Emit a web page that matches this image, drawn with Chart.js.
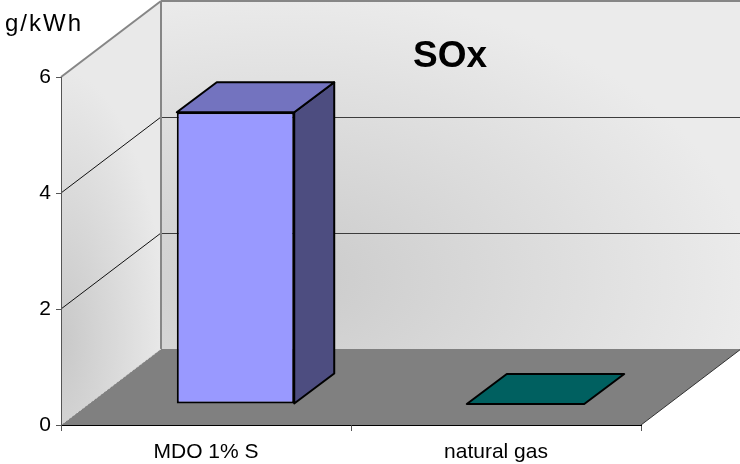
<!DOCTYPE html>
<html>
<head>
<meta charset="utf-8">
<script src="https://cdn.jsdelivr.net/npm/chart.js@4"></script>
<style>
  html, body { margin: 0; padding: 0; background: #fff; }
  canvas { display: block; }
</style>
</head>
<body>
<canvas id="sox-chart" width="740" height="464"></canvas>
<script>
// --- DATA ---
const categories = ['MDO 1% S', 'natural gas'];
const soxValues = [5.03, 0];
const chartTitle = 'SOx';
const unitLabel = 'g/kWh';

// --- COLOURS (front, top, side of each bar) ---
const frontColors = ['#9999ff', '#006666'];
const topColors = ['#7373bf', '#006060'];
const sideColors = ['#4d4d80', '#003333'];

// --- 3D GEOMETRY ---
const WALL_DX = 100, WALL_DY = -76;   // depth of the whole plot box
const BAR_DX = 40, BAR_DY = -30;      // depth of one bar
const BAR_SHIFT_X = 29.5, BAR_SHIFT_Y = -21; // bar sits in the middle of the floor
const FONT = '"Liberation Sans", Arial, sans-serif';

function polygon(ctx, pts, fill, stroke, lineWidth) {
    ctx.beginPath();
    pts.forEach((p, i) => i ? ctx.lineTo(p[0], p[1]) : ctx.moveTo(p[0], p[1]));
    ctx.closePath();
    if (fill) { ctx.fillStyle = fill; ctx.fill(); }
    if (stroke) { ctx.strokeStyle = stroke; ctx.lineWidth = lineWidth; ctx.lineJoin = 'round'; ctx.stroke(); }
}

function line(ctx, x1, y1, x2, y2, color, width) {
    ctx.beginPath();
    ctx.moveTo(x1, y1);
    ctx.lineTo(x2, y2);
    ctx.strokeStyle = color;
    ctx.lineWidth = width;
    ctx.stroke();
}

// Fill a polygon with an elliptical grey gradient around (cx, cy)
function shadeWall(ctx, pts, cx, cy, rx, ry, inner, outer) {
    ctx.save();
    polygon(ctx, pts);
    ctx.clip();
    ctx.translate(cx, cy);
    ctx.scale(rx, ry);
    const grad = ctx.createRadialGradient(0, 0, 0, 0, 0, 1);
    grad.addColorStop(0, inner);
    grad.addColorStop(1, outer);
    ctx.fillStyle = grad;
    ctx.fillRect(-10, -10, 20, 20);
    ctx.restore();
}

// Walls, floor and gridlines behind the scales and bars
const wallsPlugin = {
    id: 'walls',
    beforeDraw(chart) {
        const { ctx, chartArea: a, scales: { y } } = chart;
        ctx.save();

        shadeWall(ctx, [[a.left + WALL_DX, a.top + WALL_DY], [a.right + WALL_DX, a.top + WALL_DY],
            [a.right + WALL_DX, a.bottom + WALL_DY], [a.left + WALL_DX, a.bottom + WALL_DY]],
            280, 280, 470, 290, '#cacaca', '#ebebeb');

        shadeWall(ctx, [[a.left, a.top], [a.left + WALL_DX, a.top + WALL_DY],
            [a.left + WALL_DX, a.bottom + WALL_DY], [a.left, a.bottom]],
            60, 340, 105, 270, '#c8c8c8', '#e9e9e9');

        polygon(ctx, [[a.left, a.bottom], [a.right, a.bottom],
            [a.right + WALL_DX, a.bottom + WALL_DY], [a.left + WALL_DX, a.bottom + WALL_DY]], '#808080');

        y.ticks.forEach(t => {
            if (t.value === 0) return;
            const py = y.getPixelForValue(t.value);
            const top = t.value === 6;
            const c = top ? '#868686' : '#3c3c3c';
            line(ctx, a.left, py, a.left + WALL_DX, py + WALL_DY, top ? c : '#111', top ? 2 : 1);
            line(ctx, a.left + WALL_DX, py + WALL_DY + (top ? 0 : 0.5), a.right + WALL_DX, py + WALL_DY + (top ? 0 : 0.5), c, top ? 2 : 1);
        });
        line(ctx, a.left + WALL_DX, a.top + WALL_DY, a.left + WALL_DX, a.bottom + WALL_DY, '#868686', 2);

        // pale dotted edge where the side wall meets the floor, dark edge on the right
        ctx.setLineDash([2, 2]);
        line(ctx, a.left, a.bottom, a.left + WALL_DX, a.bottom + WALL_DY, '#d8d8d8', 1);
        ctx.setLineDash([]);
        line(ctx, a.right, a.bottom, a.right + WALL_DX, a.bottom + WALL_DY, '#333333', 1);
        ctx.restore();
    },
    beforeDatasetsDraw(chart) {
        // shift the bars into the floor; undone in afterDatasetsDraw
        chart.ctx.save();
        chart.ctx.translate(BAR_SHIFT_X, BAR_SHIFT_Y);
    },
    afterDatasetsDraw(chart) {
        const { ctx } = chart;
        chart.getDatasetMeta(0).data.forEach((bar, i) => {
            const w = bar.width / 2;
            const l = bar.x - w, r = bar.x + w, t = bar.y, b = bar.base;
            if (b - t > 1) {
                polygon(ctx, [[r, t], [r + BAR_DX, t + BAR_DY], [r + BAR_DX, b + BAR_DY], [r, b]],
                    sideColors[i], '#000', 2);
            }
            polygon(ctx, [[l, t], [r, t], [r + BAR_DX, t + BAR_DY], [l + BAR_DX, t + BAR_DY]],
                topColors[i], '#000', 2);
        });
        ctx.restore();
    }
};

// Title and unit label
const labelsPlugin = {
    id: 'labels',
    afterDraw(chart) {
        const { ctx } = chart;
        ctx.save();
        ctx.fillStyle = '#000';
        ctx.textBaseline = 'alphabetic';
        ctx.textAlign = 'center';
        ctx.font = 'bold 37px ' + FONT;
        ctx.fillText(chartTitle, 450, 67);
        ctx.textAlign = 'left';
        ctx.font = '24px ' + FONT;
        ctx.letterSpacing = '2px';
        ctx.fillText(unitLabel, 5, 31);
        ctx.restore();
    }
};

new Chart(document.getElementById('sox-chart'), {
    type: 'bar',
    data: {
        labels: categories,
        datasets: [{
            data: soxValues,
            backgroundColor: frontColors,
            borderColor: '#000',
            borderWidth: 2,
            borderSkipped: false,
            barPercentage: 0.405,
            categoryPercentage: 1
        }]
    },
    plugins: [wallsPlugin, labelsPlugin],
    options: {
        responsive: false,
        animation: false,
        layout: { padding: { top: 77, right: 99, left: 0, bottom: 0 } },
        plugins: { legend: { display: false }, tooltip: { enabled: false }, title: { display: false } },
        scales: {
            x: {
                afterFit(scale) { scale.height = 39; },
                grid: { drawOnChartArea: false, tickLength: 6, color: '#555', offset: true },
                border: { color: '#000', width: 1 },
                ticks: { color: '#000', font: { family: FONT, size: 21 }, padding: 9, maxRotation: 0 }
            },
            y: {
                min: 0,
                max: 6,
                afterFit(scale) { scale.width = 61; },
                grid: { drawOnChartArea: false, tickLength: 5, color: '#555' },
                border: { color: '#555', width: 1 },
                ticks: { stepSize: 2, color: '#000', font: { family: FONT, size: 21 }, padding: 5 }
            }
        }
    }
});
</script>
</body>
</html>
